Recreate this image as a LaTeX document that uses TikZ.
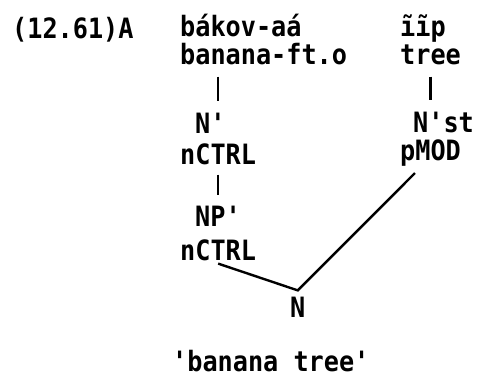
\documentclass[tikz,border=0pt]{standalone}
\usepackage{fontspec}
\setmonofont{DejaVu Sans Mono}[FakeStretch=0.9]
\usepackage{tikz}

\tikzset{
  word/.style={anchor=base west, inner sep=0pt},
  bar/.style={line width=2.6pt, shorten <=12pt, shorten >=11pt},
  branch/.style={line width=2.4pt}
}

\begin{document}
\begin{tikzpicture}[x=1pt, y=-1pt, font=\ttfamily\bfseries\fontsize{28}{32}\selectfont]
\useasboundingbox (0,0) rectangle (478,381);

\node[word] (exnum) at (12,38) {(12.61)A};

% left branch
\node[word] (bakov) at (180,36) {bákov-aá};
\node[word] (bana) at (180,64) {banana-ft.o};
\node[word] (nprime) at (195,133) {N'};
\node[word] (ctrlA) at (180,164) {nCTRL};
\node[word] (npprime) at (195,226) {NP'};
\node[word] (ctrlB) at (180,260) {nCTRL};

% right branch
\node[word] (iip) at (400,36) {ĩĩp};
\node[word] (tree) at (400,64) {tree};
\node[word] (nst) at (413,132) {N'st};
\node[word] (pmod) at (400,160) {pMOD};

% head
\node[word] (head) at (290,317) {N};
\node[word] (gloss) at (172,371) {'banana tree'};

\draw[bar] (bana.south -| ctrlA.south) -- (nprime.north -| ctrlA.south);
\draw[bar, shorten <=10pt, shorten >=10pt] (ctrlA.south) -- (npprime.north -| ctrlA.south);
\draw[bar] (tree.south -| pmod.south) -- (nst.north -| pmod.south);
\draw[branch] ([yshift=-3pt]ctrlB.south) -- ([yshift=6pt]head.north)
  -- ([xshift=15pt, yshift=-7pt]pmod.south west);
\end{tikzpicture}
\end{document}
